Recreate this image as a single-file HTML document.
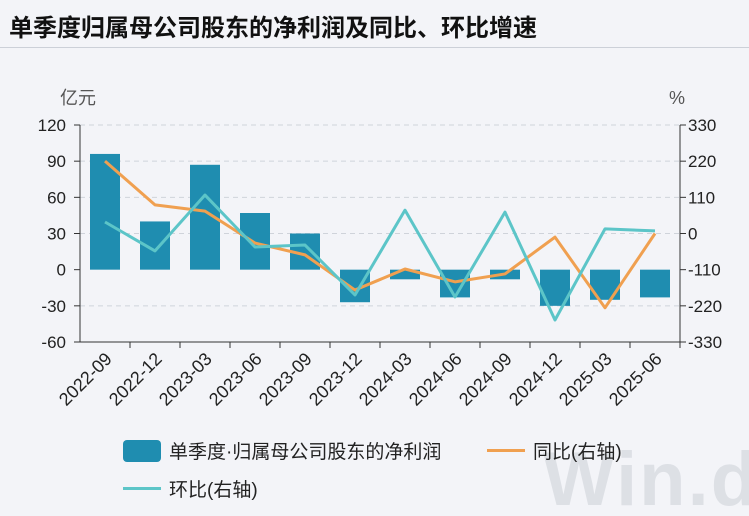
<!DOCTYPE html>
<html style="width:749px;height:516px;overflow:hidden"><head><meta charset="utf-8"><style>
html,body{margin:0;width:749px;height:516px;overflow:hidden}
body{background:#f3f4f8;font-family:"Liberation Sans","Noto Sans CJK SC",sans-serif;position:relative}
</style></head><body>
<div style="position:absolute;left:9px;top:8px;font-size:24px;font-weight:bold;color:#111;letter-spacing:0px;white-space:nowrap">单季度归属母公司股东的净利润及同比、环比增速</div>
<div style="position:absolute;left:0;top:47px;width:749px;height:1px;background:#ccd0d8"></div>
<div style="position:absolute;left:543px;top:440px;font-size:76px;line-height:80px;font-weight:bold;color:rgba(180,185,195,0.35);letter-spacing:2px;white-space:nowrap">Win.d</div>
<svg id="c" width="749" height="516" style="position:absolute;left:0;top:0"></svg>
<script>
const categories=["2022-09","2022-12","2023-03","2023-06","2023-09","2023-12","2024-03","2024-06","2024-09","2024-12","2025-03","2025-06"];
const profit=[96,40,87,47,30,-27,-8,-23,-8,-30,-25,-23];
const yoy=[220,87,68,-29,-65,-172,-108,-147,-123,-11,-226,0];
const qoq=[35,-53,117,-41,-35,-187,71,-193,65,-263,14,8];
const leftTicks=[120,90,60,30,0,-30,-60];
const rightTicks=[330,220,110,0,-110,-220,-330];
const svg=document.getElementById('c');const NS='http://www.w3.org/2000/svg';
const X0=80,X1=680,Y0=125,Y1=342;
const yl=v=>Y0+(120-v)/180*(Y1-Y0);
const yr=v=>Y0+(330-v)/660*(Y1-Y0);
const bw=(X1-X0)/categories.length;
const xc=i=>X0+bw*(i+0.5);
function el(t,a,txt){const e=document.createElementNS(NS,t);for(const k in a)e.setAttribute(k,a[k]);if(txt!=null)e.textContent=txt;svg.appendChild(e);return e;}
leftTicks.forEach(v=>{
 if(v!==0){const g=el('line',{x1:X0,x2:X1,y1:yl(v),y2:yl(v),stroke:'#cfd3da','stroke-dasharray':'5,4'});
 
 }
 const t=el('text',{x:X0-14,y:yl(v)+6,'text-anchor':'end','font-size':'17',fill:'#222'},v);
 
 
 el('line',{x1:X0-6,x2:X0,y1:yl(v),y2:yl(v),stroke:'#333'});
});
rightTicks.forEach(v=>{
 const t=el('text',{x:X1+8,y:yr(v)+6,'font-size':'17',fill:'#222'},v);
 
 
 el('line',{x1:X1,x2:X1+6,y1:yr(v),y2:yr(v),stroke:'#333'});
});
el('line',{x1:X0,x2:X0,y1:Y0,y2:Y1,stroke:'#333'});
el('line',{x1:X1,x2:X1,y1:Y0,y2:Y1,stroke:'#333'});
el('line',{x1:X0,x2:X1,y1:Y1,y2:Y1,stroke:'#333'});
let u=el('text',{x:60,y:104,'font-size':'18',fill:'#555'},'亿元');
u=el('text',{x:669,y:104,'font-size':'18',fill:'#555'},'%');
categories.forEach((c,i)=>{
 const x=xc(i);
 el('line',{x1:X0+bw*(i+1),x2:X0+bw*(i+1),y1:Y1,y2:Y1+6,stroke:'#333'});
 const t=el('text',{x:x+8,y:Y1+18,'text-anchor':'end','font-size':'18',fill:'#222',transform:`rotate(-45 ${x+8} ${Y1+18})`},c);
 
 
 const v=profit[i],y=yl(v),z=yl(0);
 const b=el('rect',{x:x-15,y:Math.min(y,z),width:30,height:Math.abs(z-y),fill:'#1f8db0'});
 
 
});
function line(arr,col,name){
 const p=el('polyline',{points:arr.map((v,i)=>xc(i)+','+yr(v)).join(' '),fill:'none',stroke:col,'stroke-width':'3','stroke-linejoin':'round'});
 
 
}
line(yoy,'#f0a050','yoy-line');
line(qoq,'#5cc5c8','qoq-line');
</script>
<div style="position:absolute;left:123px;top:437px;font-size:19px;color:#222;display:flex;align-items:center;white-space:nowrap"><span style="display:inline-block;width:38px;height:22px;background:#1f8db0;border-radius:4px;margin-right:8px"></span>单季度·归属母公司股东的净利润</div>
<div style="position:absolute;left:487px;top:437px;font-size:19px;color:#222;display:flex;align-items:center;white-space:nowrap"><span style="display:inline-block;width:38px;height:3px;background:#f0a050;margin-right:8px"></span>同比(右轴)</div>
<div style="position:absolute;left:123px;top:475px;font-size:19px;color:#222;display:flex;align-items:center;white-space:nowrap"><span style="display:inline-block;width:38px;height:3px;background:#5cc5c8;margin-right:8px"></span>环比(右轴)</div>
</body></html>
